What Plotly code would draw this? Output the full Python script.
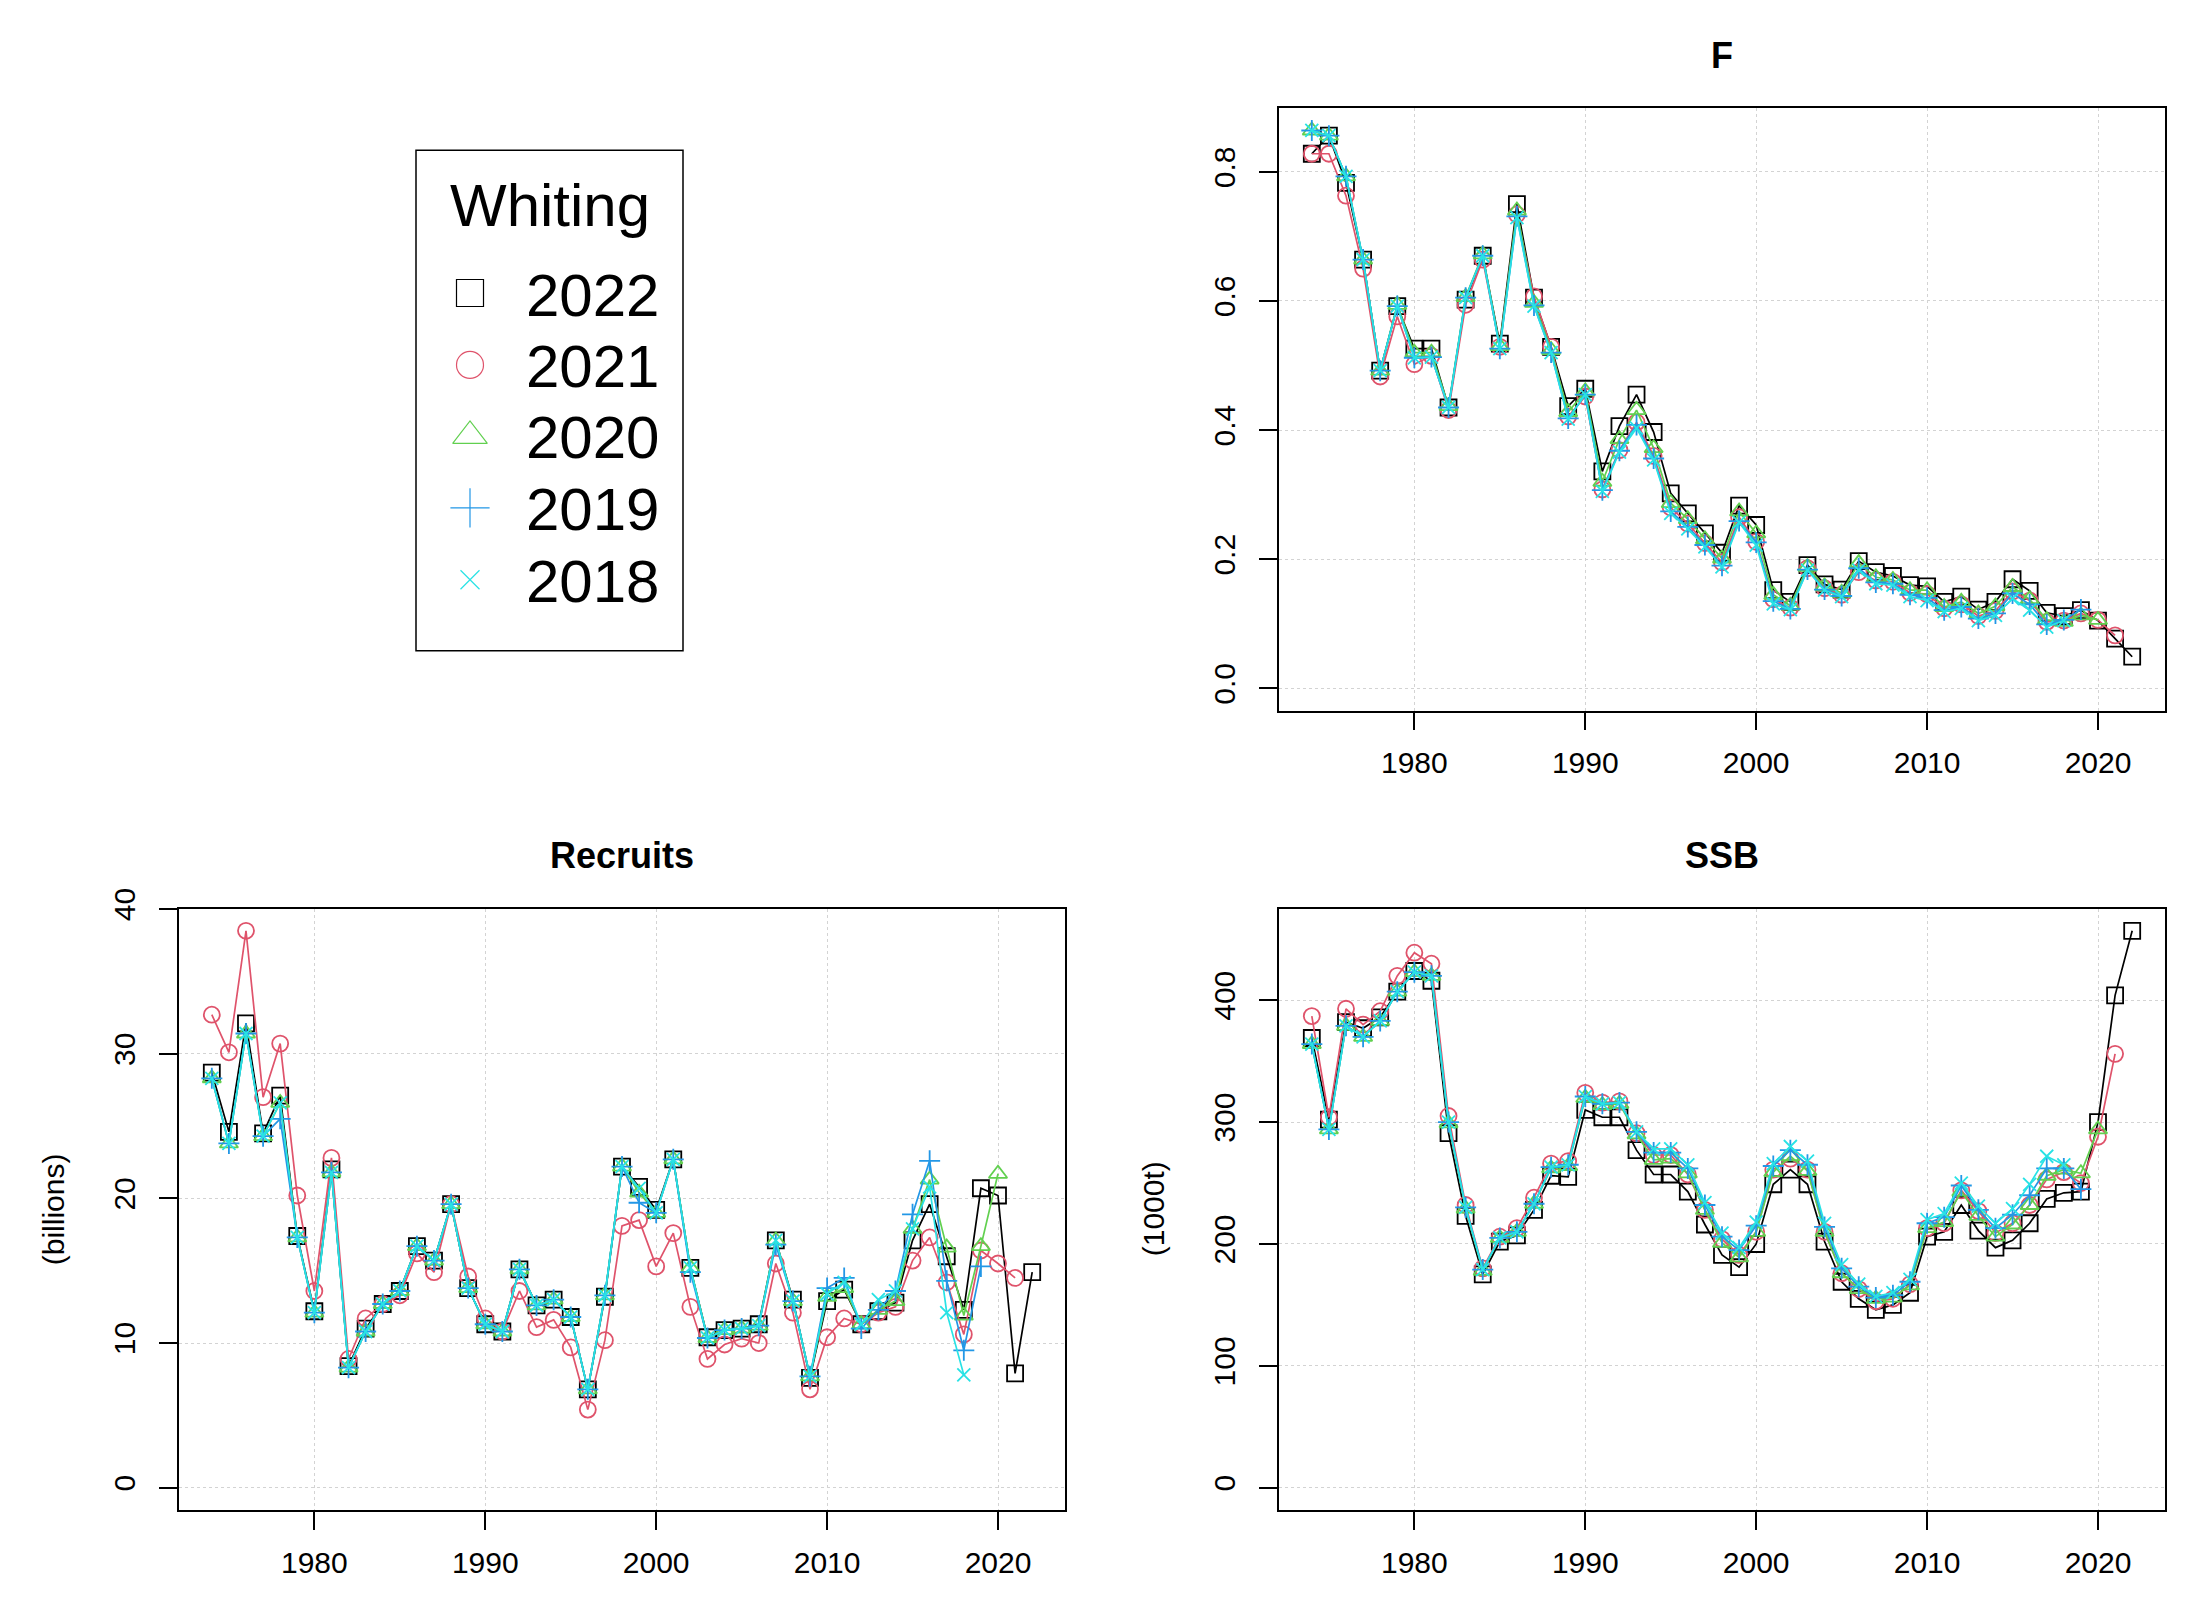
import plotly.graph_objects as go

W, H = 2200, 1600

years = list(range(1974, 2023))
assessments = ["2022", "2021", "2020", "2019", "2018"]
colors = ["#000000", "#DF536B", "#61D04F", "#2297E6", "#28E2E5"]
symbols = ["square-open", "circle-open", "triangle-up-open", "cross-thin-open", "x-thin-open"]
marker_sizes = [16, 16, 16, 15, 13]

F_2022 = [0.828, 0.856, 0.783, 0.664, 0.492, 0.592, 0.526, 0.526, 0.435, 0.602, 0.670, 0.534, 0.750, 0.605, 0.529, 0.437, 0.464, 0.336, 0.406, 0.455, 0.397, 0.302, 0.271, 0.240, 0.210, 0.283, 0.253, 0.152, 0.134, 0.191, 0.161, 0.153, 0.197, 0.180, 0.174, 0.160, 0.158, 0.134, 0.142, 0.122, 0.134, 0.169, 0.151, 0.117, 0.112, 0.121, 0.105, 0.077, 0.049]
F_2021 = [0.828, 0.828, 0.763, 0.650, 0.483, 0.576, 0.502, 0.515, 0.431, 0.594, 0.664, 0.529, 0.734, 0.607, 0.529, 0.421, 0.452, 0.308, 0.369, 0.412, 0.360, 0.280, 0.255, 0.225, 0.195, 0.265, 0.227, 0.138, 0.125, 0.186, 0.155, 0.145, 0.180, 0.167, 0.165, 0.148, 0.146, 0.124, 0.130, 0.112, 0.120, 0.150, 0.136, 0.103, 0.105, 0.116, 0.106, 0.082]
F_2020 = [0.864, 0.856, 0.793, 0.664, 0.492, 0.594, 0.520, 0.520, 0.437, 0.606, 0.672, 0.530, 0.740, 0.597, 0.524, 0.428, 0.460, 0.320, 0.386, 0.431, 0.372, 0.287, 0.262, 0.231, 0.201, 0.274, 0.240, 0.145, 0.128, 0.188, 0.158, 0.148, 0.194, 0.172, 0.168, 0.152, 0.152, 0.126, 0.134, 0.116, 0.127, 0.157, 0.138, 0.106, 0.103, 0.113, 0.106]
F_2019 = [0.864, 0.856, 0.793, 0.664, 0.492, 0.592, 0.512, 0.513, 0.435, 0.605, 0.670, 0.526, 0.731, 0.593, 0.520, 0.418, 0.455, 0.307, 0.368, 0.408, 0.356, 0.274, 0.250, 0.222, 0.190, 0.259, 0.226, 0.135, 0.123, 0.184, 0.153, 0.143, 0.186, 0.164, 0.162, 0.145, 0.140, 0.121, 0.126, 0.108, 0.116, 0.147, 0.130, 0.099, 0.106, 0.122]
F_2018 = [0.864, 0.856, 0.793, 0.664, 0.492, 0.592, 0.512, 0.513, 0.435, 0.605, 0.670, 0.526, 0.729, 0.592, 0.520, 0.417, 0.455, 0.305, 0.366, 0.403, 0.354, 0.271, 0.247, 0.219, 0.188, 0.257, 0.222, 0.131, 0.122, 0.183, 0.152, 0.142, 0.183, 0.162, 0.160, 0.142, 0.136, 0.119, 0.124, 0.105, 0.113, 0.139, 0.121, 0.095, 0.105]

R_2022 = [28.7, 24.6, 32.1, 24.5, 27.1, 17.4, 12.2, 22.0, 8.4, 11.0, 12.7, 13.6, 16.7, 15.7, 19.6, 13.8, 11.3, 10.8, 15.1, 12.6, 13.0, 11.8, 6.8, 13.2, 22.2, 20.8, 19.2, 22.7, 15.2, 10.4, 10.9, 11.0, 11.3, 17.1, 13.0, 7.6, 12.9, 13.7, 11.3, 12.2, 12.8, 17.1, 19.6, 16.0, 12.3, 20.7, 20.2, 7.9, 14.9]
R_2021 = [32.7, 30.1, 38.5, 27.0, 30.7, 20.2, 13.6, 22.8, 8.9, 11.7, 12.7, 13.3, 16.2, 14.9, 19.6, 14.6, 11.7, 10.8, 13.6, 11.1, 11.6, 9.7, 5.4, 10.2, 18.1, 18.5, 15.3, 17.6, 12.5, 8.9, 9.9, 10.3, 10.0, 15.5, 12.1, 6.8, 10.4, 11.7, 11.3, 12.1, 12.5, 15.7, 17.3, 14.2, 10.6, 16.4, 15.5, 14.5]
R_2020 = [28.3, 23.8, 31.4, 24.3, 26.6, 17.3, 12.1, 21.8, 8.3, 10.8, 12.7, 13.6, 16.7, 15.7, 19.6, 13.8, 11.3, 10.8, 15.1, 12.6, 13.0, 11.8, 6.8, 13.3, 22.2, 20.4, 19.0, 22.7, 15.2, 10.35, 10.9, 11.0, 11.2, 17.1, 12.9, 7.7, 13.2, 13.8, 11.3, 12.3, 12.9, 17.9, 21.3, 16.6, 11.9, 16.7, 21.7]
R_2019 = [28.3, 23.8, 31.4, 24.3, 25.5, 17.3, 12.1, 21.8, 8.3, 10.8, 12.7, 13.6, 16.7, 15.7, 19.6, 13.8, 11.3, 10.8, 15.1, 12.6, 13.0, 11.8, 6.8, 13.3, 22.2, 19.7, 19.0, 22.7, 14.9, 10.35, 10.9, 11.0, 11.2, 16.8, 12.9, 7.7, 13.8, 14.5, 11.0, 12.3, 13.6, 18.9, 22.6, 14.3, 9.5, 15.3]
R_2018 = [28.3, 23.8, 31.4, 24.3, 26.6, 17.3, 12.1, 21.8, 8.3, 10.8, 12.7, 13.6, 16.7, 15.7, 19.6, 13.8, 11.3, 10.8, 15.1, 12.6, 13.0, 11.8, 6.8, 13.3, 22.2, 20.7, 19.0, 22.7, 15.2, 10.35, 10.9, 11.0, 11.2, 17.1, 12.9, 7.7, 13.4, 14.2, 11.3, 13.0, 13.6, 17.9, 20.8, 12.1, 7.8]

S_2022 = [369, 302, 382, 377, 386, 407, 424, 416, 291, 223, 175, 202, 207, 228, 256, 255, 310, 304, 304, 277, 257, 257, 243, 216, 191, 181, 200, 249, 261, 249, 202, 169, 155, 146, 150, 160, 206, 210, 232, 211, 197, 203, 217, 237, 242, 243, 300, 404, 457]
S_2021 = [387, 304, 393, 380, 391, 420, 439, 430, 305, 232, 180, 206, 213, 238, 266, 268, 324, 316, 317, 291, 273, 273, 257, 228, 204, 191, 210, 261, 270, 261, 210, 176, 163, 153, 155, 167, 213, 217, 244, 227, 209, 217, 232, 253, 259, 250, 288, 356]
S_2020 = [364, 294, 379, 370, 383, 407, 423, 420, 299, 229, 178, 205, 210, 233, 262, 264, 320, 314, 315, 290, 269, 270, 258, 228, 201, 189, 210, 259, 272, 260, 210, 176, 163, 155, 156, 166, 213, 218, 243, 223, 206, 216, 232, 256, 261, 258, 294]
S_2019 = [364, 294, 379, 370, 383, 407, 423, 420, 300, 230, 179, 205, 210, 233, 263, 265, 321, 315, 316, 292, 275, 275, 262, 232, 206, 195, 215, 264, 277, 265, 214, 180, 165, 156, 158, 169, 217, 222, 248, 228, 213, 224, 240, 262, 262, 245]
S_2018 = [364, 294, 379, 370, 383, 407, 423, 420, 300, 230, 179, 205, 210, 233, 263, 265, 321, 315, 316, 292, 278, 278, 265, 234, 209, 197, 218, 266, 280, 268, 217, 183, 167, 157, 160, 171, 220, 225, 250, 231, 217, 229, 249, 272, 265]

panel_titles = ["F", "Recruits", "SSB"]
panel_ylabels = ["", "(billions)", "(1000t)"]
panel_series = [
    [F_2022, F_2021, F_2020, F_2019, F_2018],
    [R_2022, R_2021, R_2020, R_2019, R_2018],
    [S_2022, S_2021, S_2020, S_2019, S_2018],
]
panel_yticks = [[0, 0.2, 0.4, 0.6, 0.8], [0, 10, 20, 30, 40], [0, 100, 200, 300, 400]]
panel_yfmt = [".1f", "d", "d"]
xticks = [1980, 1990, 2000, 2010, 2020]
legend_title = "Whiting"

# ---------- layout geometry (target pixels in the final picture) ----------
boxes = {  # x0, x1, y0(top), y1(bottom)
    0: (1279, 2165, 107, 710),
    1: (179, 1065, 908, 1510),
    2: (1279, 2165, 908, 1510),
}
leg_box = (416, 683, 149, 650)

# vertical calibration of the rendering pipeline (observed offset/scale)
V_SCALE = 0.9877
V_OFF = 20.0

def px(x):
    return x / W

def ypix(y):
    return y / V_SCALE - V_OFF

def py(y):
    return 1 - ypix(y) / H

FONT = "Liberation Sans, Arial, sans-serif"

fig = go.Figure()

def rlim(lo, hi):
    d = (hi - lo) * 0.04
    return [lo - d, hi + d]

xr = rlim(min(years), max(years))

layout = dict(
    width=W, height=H,
    margin=dict(l=0, r=0, t=0, b=0),
    paper_bgcolor="white",
    plot_bgcolor="rgba(0,0,0,0)",
    showlegend=False,
    font=dict(family=FONT, color="black"),
    annotations=[],
    shapes=[],
)

for p in range(3):
    ax = "" if p == 0 else str(p + 1)
    x0, x1, y0, y1 = boxes[p]
    ymax = max(max(s) for s in panel_series[p])
    yr = rlim(0, ymax)
    for i, vals in enumerate(panel_series[p]):
        fig.add_trace(go.Scatter(
            x=years[:len(vals)], y=vals,
            mode="lines+markers",
            line=dict(color=colors[i], width=1.7),
            marker=dict(symbol=symbols[i], size=marker_sizes[i], color=colors[i],
                        line=dict(color=colors[i], width=1.8)),
            xaxis="x" + ax, yaxis="y" + ax,
            name=assessments[i], cliponaxis=False,
        ))
    common = dict(
        showline=True, mirror=True, linecolor="black", linewidth=1.5,
        ticks="outside", ticklen=18, tickwidth=1.5, tickcolor="black",
        showgrid=True, gridcolor="#D3D3D3", griddash="dot", gridwidth=1.2,
        zeroline=False, tickfont=dict(family=FONT, size=30, color="black"),
    )
    layout["xaxis" + ax] = dict(
        common, domain=[px(x0), px(x1)], range=xr, tickvals=xticks,
        anchor="y" + ax, ticklabelstandoff=7,
    )
    layout["yaxis" + ax] = dict(
        common, domain=[py(y1), py(y0)], range=yr, tickvals=panel_yticks[p],
        tickformat=panel_yfmt[p], tickangle=-90, anchor="x" + ax,
        ticklabelstandoff=12,
    )
    layout["annotations"].append(dict(
        text="<b>%s</b>" % panel_titles[p], x=px((x0 + x1) / 2), y=py(y0 - 53),
        xref="paper", yref="paper", showarrow=False, xanchor="center", yanchor="middle",
        font=dict(family=FONT, size=36, color="black"),
    ))
    if panel_ylabels[p]:
        layout["annotations"].append(dict(
            text=panel_ylabels[p], x=px(x0 - 126), y=py((y0 + y1) / 2),
            xref="paper", yref="paper", showarrow=False, textangle=-90,
            xanchor="center", yanchor="middle",
            font=dict(family=FONT, size=30, color="black"),
        ))

# ---------- legend (drawn on its own hidden axis, pixel coordinates) ----------
lx0, lx1, ly0, ly1 = leg_box
layout["xaxis4"] = dict(domain=[px(lx0), px(lx1)], range=[lx0, lx1], visible=False,
                        anchor="y4", fixedrange=True)
layout["yaxis4"] = dict(domain=[py(ly1), py(ly0)], range=[ly1, ly0], visible=False,
                        anchor="x4", fixedrange=True)
layout["shapes"].append(dict(type="rect", xref="paper", yref="paper",
                             x0=px(lx0), x1=px(lx1), y0=py(ly1), y1=py(ly0),
                             line=dict(color="black", width=1.5)))
legend_sizes = [27, 27, 30, 28, 19]
row_y = [292, 364, 435, 507, 579]
for i in range(5):
    fig.add_trace(go.Scatter(
        x=[470], y=[row_y[i]], mode="markers",
        marker=dict(symbol=symbols[i], size=legend_sizes[i], color=colors[i],
                    line=dict(color=colors[i], width=1.2)),
        xaxis="x4", yaxis="y4", cliponaxis=False, hoverinfo="skip",
    ))
    layout["annotations"].append(dict(
        text=assessments[i], x=524, y=row_y[i] + 2, xref="x4", yref="y4",
        showarrow=False, xanchor="left", yanchor="middle",
        font=dict(family=FONT, size=60, color="black"),
    ))
layout["annotations"].append(dict(
    text=legend_title, x=(lx0 + lx1) / 2, y=204, xref="x4", yref="y4",
    showarrow=False, xanchor="center", yanchor="middle",
    font=dict(family=FONT, size=60, color="black"),
))

fig.update_layout(**layout)
post = (
    "document.documentElement.style.margin='0';"
    "document.documentElement.style.overflow='hidden';"
    "document.body.style.margin='0';document.body.style.overflow='hidden';"
    "var d=document.getElementById('{plot_id}');"
    "d.style.position='absolute';d.style.left='0px';d.style.top='0px';"
)
fig.write_html("out.html", config={"displayModeBar": False}, post_script=post)
